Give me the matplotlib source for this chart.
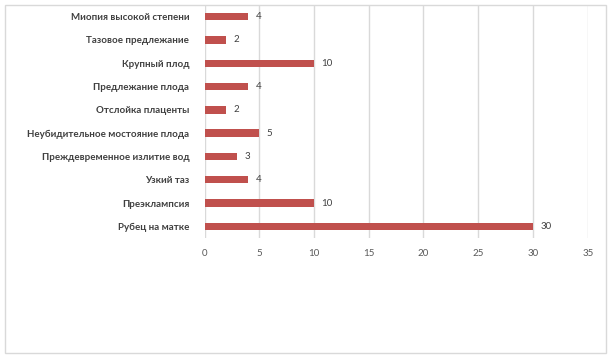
import matplotlib
matplotlib.use("Agg")
import matplotlib.pyplot as plt
from matplotlib.patches import Rectangle

# данные (сверху вниз)
categories = ["Миопия высокой степени", "Тазовое предлежание", "Крупный плод",
              "Предлежание плода", "Отслойка плаценты",
              "Неубидительное мостояние плода", "Преждевременное излитие вод",
              "Узкий таз", "Преэклампсия", "Рубец на матке"]
values = [4, 2, 10, 4, 2, 5, 3, 4, 10, 30]
xticks = [0, 5, 10, 15, 20, 25, 30, 35]

plt.rcParams['font.family'] = ['Lato', 'DejaVu Sans']

fig = plt.figure(figsize=(6.12, 3.6), dpi=100)
ax = fig.add_axes([204.5/612, 1 - 238/360, 383.2/612, 233/360])

n = len(categories)
ypos = list(range(n))[::-1]
ax.barh(ypos, values, height=0.32, color='#C0504D', zorder=3)
for y, v in zip(ypos, values):
    ax.text(v + 0.65, y, str(v), va='center', ha='left', fontsize=7, color='#404040')

ax.set_xlim(0, 35)
ax.set_ylim(-0.5, n - 0.5)
ax.set_xticks(xticks)
ax.set_xticklabels([str(t) for t in xticks], fontsize=7, color='#595959')
ax.set_yticks(ypos)
ax.set_yticklabels(categories, fontsize=7, fontweight='bold', color='#404040')
ax.tick_params(axis='x', length=0, pad=8)
ax.tick_params(axis='y', length=0, pad=11)
ax.grid(axis='x', color='#D9D9D9', linewidth=1, zorder=0)
for s in ax.spines.values():
    s.set_visible(False)

fig.patches.append(Rectangle((5/612, 1 - 353/360), 601/612, 348/360,
                             transform=fig.transFigure, fill=False,
                             edgecolor='#D9D9D9', linewidth=1))

fig.savefig("out.png", dpi=100)
